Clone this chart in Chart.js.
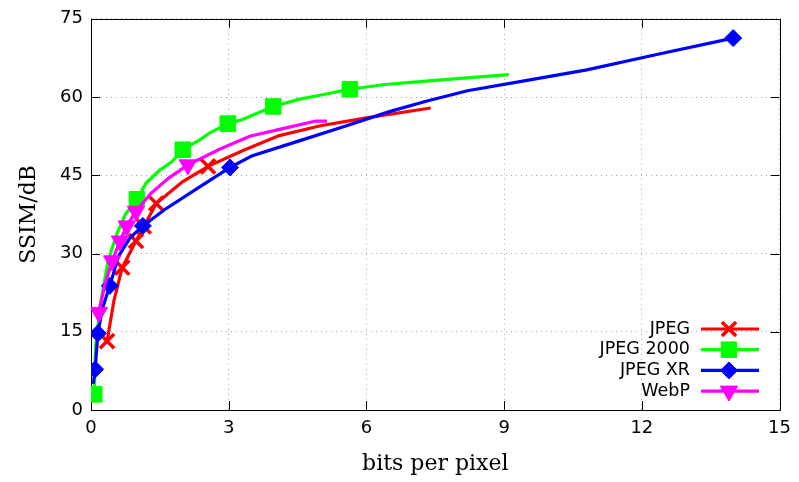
<!DOCTYPE html>
<html>
<head>
<meta charset="utf-8">
<script src="https://cdn.jsdelivr.net/npm/chart.js@4/dist/chart.umd.min.js"></script>
<style>
html,body{margin:0;padding:0;background:#fff;}
</style>
</head>
<body>
<canvas id="c" width="799" height="482"></canvas>
<script>
// axis ticks
var xTicks = [0, 3, 6, 9, 12, 15];
var yTicks = [0, 15, 30, 45, 60, 75];

// JPEG
var jpegX = [0.35, 0.5, 0.68, 0.98, 1.15, 1.42, 2.0, 2.55, 3.3, 4.1, 5.0, 6.0, 7.4];
var jpegY = [13.2, 21.0, 27.3, 32.4, 35.2, 39.6, 43.8, 46.7, 49.7, 52.6, 54.5, 56.0, 57.9];
var jpegMarks = [0, 2, 3, 4, 5, 7];

// JPEG 2000
var j2kX = [0.07, 0.1, 0.2, 0.37, 0.55, 0.75, 1.0, 1.2, 1.5, 1.75, 2.0, 2.37, 2.6, 2.98, 3.3, 3.97, 4.5, 4.9, 5.64, 6.4, 7.5, 9.1];
var j2kY = [3.0, 12.0, 20.0, 28.5, 33.5, 37.5, 40.4, 43.5, 46.0, 47.5, 49.9, 51.8, 53.2, 54.9, 55.7, 58.2, 59.5, 60.2, 61.5, 62.4, 63.2, 64.3];
var j2kMarks = [0, 6, 10, 13, 15, 18];

// JPEG XR
var jxrX = [0.05, 0.09, 0.15, 0.25, 0.41, 0.6, 0.85, 1.13, 1.6, 2.3, 3.03, 3.5, 4.5, 5.5, 6.5, 7.3, 8.2, 9.5, 10.8, 12.4, 13.99];
var jxrY = [5.0, 7.8, 14.7, 19.5, 23.8, 29.5, 33.0, 35.3, 38.4, 42.4, 46.5, 48.7, 51.5, 54.3, 57.2, 59.2, 61.2, 63.2, 65.2, 68.3, 71.3];
var jxrMarks = [1, 2, 4, 7, 10, 20];

// WebP
var webpX = [0.17, 0.3, 0.46, 0.63, 0.78, 0.98, 1.3, 1.7, 2.11, 2.8, 3.46, 4.2, 4.9, 5.14];
var webpY = [18.7, 24.0, 28.6, 32.4, 35.3, 38.1, 41.5, 44.5, 47.0, 50.0, 52.5, 54.0, 55.4, 55.4];
var webpMarks = [0, 2, 3, 4, 5, 8];

function pts(xs, ys) {
  return xs.map(function(x, i) { return {x: x, y: ys[i]}; });
}

function series(label, xs, ys, marks, color, style, r, extra) {
  var ds = {
    label: label,
    data: pts(xs, ys),
    showLine: true,
    borderColor: color,
    backgroundColor: color,
    borderWidth: 3.2,
    tension: 0,
    pointStyle: style,
    pointBackgroundColor: color,
    pointBorderColor: color,
    pointBorderWidth: style == 'crossRot' ? 3.5 : 1,
    pointRadius: function(ctx) { return marks.indexOf(ctx.dataIndex) >= 0 ? r : 0; },
    pointHoverRadius: function(ctx) { return marks.indexOf(ctx.dataIndex) >= 0 ? r : 0; },
    legendRadius: r
  };
  for (var k in extra) ds[k] = extra[k];
  return ds;
}

var datasets = [
  series('WebP', webpX, webpY, webpMarks, '#ff00ff', 'triangle', 10, {pointRotation: 180, order: 0}),
  series('JPEG XR', jxrX, jxrY, jxrMarks, '#0000ff', 'rectRot', 8.5, {order: 1}),
  series('JPEG 2000', j2kX, j2kY, j2kMarks, '#00ff00', 'rect', 11, {order: 2}),
  series('JPEG', jpegX, jpegY, jpegMarks, '#ff0000', 'crossRot', 10, {order: 3})
];
var legendOrder = ['JPEG', 'JPEG 2000', 'JPEG XR', 'WebP'];

// gnuplot style frame with inward ticks, plus the legend
var frame = {
  id: 'frame',
  beforeDatasetsDraw: function(chart) {
    var ctx = chart.ctx, a = chart.chartArea;
    var xs = chart.scales.x, ys = chart.scales.y;
    ctx.save();
    ctx.strokeStyle = '#000';
    ctx.lineWidth = 1;
    ctx.beginPath();
    ctx.rect(Math.round(a.left) + 0.5, Math.round(a.top) + 0.5, Math.round(a.right - a.left), Math.round(a.bottom - a.top));
    xTicks.forEach(function(v) {
      var px = Math.round(xs.getPixelForValue(v)) + 0.5;
      ctx.moveTo(px, a.bottom); ctx.lineTo(px, a.bottom - 9);
      ctx.moveTo(px, a.top); ctx.lineTo(px, a.top + 9);
    });
    yTicks.forEach(function(v) {
      var py = Math.round(ys.getPixelForValue(v)) + 0.5;
      ctx.moveTo(a.left, py); ctx.lineTo(a.left + 9, py);
      ctx.moveTo(a.right, py); ctx.lineTo(a.right - 9, py);
    });
    ctx.stroke();
    ctx.restore();
  },
  afterDraw: function(chart) {
    var ctx = chart.ctx;
    ctx.save();
    ctx.font = '17.5px "DejaVu Sans"';
    ctx.textAlign = 'right';
    ctx.textBaseline = 'middle';
    legendOrder.forEach(function(name, i) {
      var ds = chart.data.datasets.filter(function(d) { return d.label == name; })[0];
      var y = 329 + i * 20.7;
      ctx.fillStyle = '#000';
      ctx.fillText(name, 690, y);
      ctx.strokeStyle = ds.borderColor;
      ctx.lineWidth = ds.borderWidth;
      ctx.beginPath();
      ctx.moveTo(701, y); ctx.lineTo(759, y);
      ctx.stroke();
      ctx.fillStyle = ds.pointBackgroundColor;
      ctx.strokeStyle = ds.pointBorderColor;
      ctx.lineWidth = ds.pointBorderWidth;
      Chart.helpers.drawPoint(ctx, {
        pointStyle: ds.pointStyle,
        rotation: ds.pointRotation || 0,
        radius: ds.legendRadius,
        borderWidth: ds.pointBorderWidth
      }, 729, y);
    });
    ctx.restore();
  }
};

var tickFont = {family: 'DejaVu Sans', size: 18};
var titleFont = {family: 'DejaVu Serif', size: 22};

new Chart(document.getElementById('c'), {
  type: 'scatter',
  data: {datasets: datasets},
  options: {
    responsive: false,
    animation: false,
    layout: {padding: {top: 17, right: 19, left: 0, bottom: 0}},
    plugins: {legend: {display: false}, tooltip: {enabled: false}},
    scales: {
      x: {
        type: 'linear', min: 0, max: 15,
        afterBuildTicks: function(s) { s.ticks = xTicks.map(function(v) { return {value: v}; }); },
        afterFit: function(s) { s.height = 72; },
        ticks: {font: tickFont, color: '#000', padding: 8, maxRotation: 0},
        grid: {color: '#a8a8a8', lineWidth: 1, drawTicks: false},
        border: {display: false, dash: [1, 4]},
        title: {display: true, text: 'bits per pixel', font: titleFont, color: '#000', padding: {top: 4, bottom: 5}}
      },
      y: {
        type: 'linear', min: 0, max: 75,
        afterBuildTicks: function(s) { s.ticks = yTicks.map(function(v) { return {value: v}; }); },
        afterFit: function(s) { s.width = 91; },
        ticks: {font: tickFont, color: '#000', padding: 8},
        grid: {color: '#a8a8a8', lineWidth: 1, drawTicks: false},
        border: {display: false, dash: [1, 4]},
        title: {display: true, text: 'SSIM/dB', font: titleFont, color: '#000', padding: {top: 16, bottom: 0}}
      }
    }
  },
  plugins: [frame]
});
</script>
</body>
</html>
